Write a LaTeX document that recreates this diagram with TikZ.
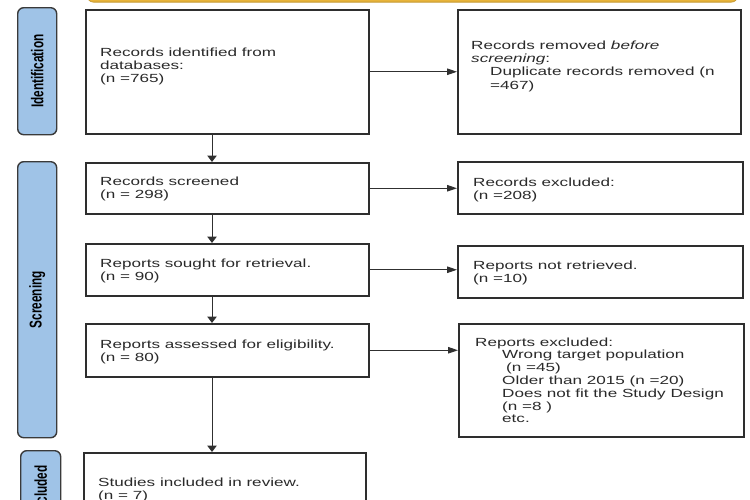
\documentclass[tikz,border=0pt]{standalone}
\usepackage{fontspec}
\setmainfont{Liberation Sans}[FakeStretch=1.45]
\newfontfamily\labfont{Liberation Sans}
\usetikzlibrary{arrows.meta}
\definecolor{boxc}{HTML}{2E2E2E}
\definecolor{arrc}{HTML}{303030}
\definecolor{txtc}{HTML}{2A2A2A}
\definecolor{labc}{HTML}{3A3A3A}
\definecolor{labfill}{HTML}{9FC3E7}
\definecolor{barfill}{HTML}{E8B43A}
\begin{document}
\begin{tikzpicture}[x=1pt,y=-1pt,
  box/.style={draw=boxc, line width=1.5pt, fill=white, inner sep=0pt, anchor=north west},
  txt/.style={anchor=north west, inner sep=0pt, align=left, text=txtc,
              font=\fontsize{11.8}{13.4}\selectfont},
  lab/.style={draw=labc, line width=1.4pt, fill=labfill, rounded corners=6pt, inner sep=0pt, anchor=north west},
  labtxt/.style={rotate=90, inner sep=0pt, text=black, font=\labfont\bfseries\fontsize{11.8}{13}\selectfont},
  arr/.style={draw=arrc, line width=1pt},
  harr/.style={arr, -{Triangle[length=10pt,width=6.5pt]}},
  varr/.style={arr, -{Triangle[length=6.5pt,width=9.5pt]}}]
\useasboundingbox (0,0) rectangle (750,499);
\clip (0,0) rectangle (750,499);

% top bar
\node[draw=barfill!85!black, fill=barfill, line width=0.8pt, rounded corners=6pt, inner sep=0pt,
      minimum width=650pt, minimum height=24pt, anchor=south west] (topbar) at (87,2.5) {};

% phase labels
\node[lab, minimum width=39pt, minimum height=127pt] (l1) at (17,7) {};
\node[labtxt] (l1t) at (l1.center) {\scalebox{1}[1.45]{Identification}};
\node[lab, minimum width=39pt, minimum height=276pt] (l2) at (17,161) {};
\node[labtxt] (l2t) at (l2.center) {\scalebox{1}[1.45]{Screening}};
\node[lab, minimum width=40pt, minimum height=78pt] (l3) at (20,450) {};
\node[labtxt] (l3t) at (l3.center) {\scalebox{1}[1.45]{Included}};

% left column boxes
\node[box, minimum width=283pt, minimum height=124pt] (b1) at (85,9) {};
\node[box, minimum width=283pt, minimum height=51pt] (b2) at (85,162) {};
\node[box, minimum width=283pt, minimum height=52pt] (b3) at (85,243) {};
\node[box, minimum width=283pt, minimum height=53pt] (b4) at (85,323) {};
\node[box, minimum width=282pt, minimum height=78pt] (b5) at (83,452) {};

% right column boxes
\node[box, minimum width=283pt, minimum height=124pt] (r1) at (457,9) {};
\node[box, minimum width=285pt, minimum height=52pt] (r2) at (457,161) {};
\node[box, minimum width=285pt, minimum height=52pt] (r3) at (457,245) {};
\node[box, minimum width=285pt, minimum height=113pt] (r4) at (458,323) {};

% texts
\node[txt] (t1) at (100,47.4) {Records identified from\\databases:\\(n =765)};
\node[txt] (t2) at (100,176.4) {Records screened\\(n = 298)};
\node[txt] (t3) at (100,258.4) {Reports sought for retrieval.\\(n = 90)};
\node[txt] (t4) at (100,339.4) {Reports assessed for eligibility.\\(n = 80)};
\node[txt] (t5) at (98,477.4) {Studies included in review.\\(n = 7)};

\node[txt] (s1) at (471,40.4) {Records removed \textit{before}\\\textit{screening}:\\\hspace*{19pt}Duplicate records removed (n\\\hspace*{19pt}=467)};
\node[txt] (s2) at (473,177.4) {Records excluded:\\(n =208)};
\node[txt] (s3) at (473,260.4) {Reports not retrieved.\\(n =10)};
\node[txt, font=\fontsize{11.8}{12.8}\selectfont] (s4) at (475,337.4) {Reports excluded:\\\hspace*{27pt}Wrong target population\\\hspace*{31pt}(n =45)\\\hspace*{27pt}Older than 2015 (n =20)\\\hspace*{27pt}Does not fit the Study Design\\\hspace*{27pt}(n =8 )\\\hspace*{27pt}etc.};

% connectors
\coordinate (ax) at (212,0);
\draw[varr] (b1.south -| ax) -- (b2.north -| ax);
\draw[varr] (b2.south -| ax) -- (b3.north -| ax);
\draw[varr] (b3.south -| ax) -- (b4.north -| ax);
\draw[varr] (b4.south -| ax) -- (b5.north -| ax);

\draw[harr] (b1.east) -- (b1.east -| r1.west);
\draw[harr] (b2.east) -- (b2.east -| r2.west);
\draw[harr] (b3.east) -- (b3.east -| r3.west);
\draw[harr] (b4.east) -- (b4.east -| r4.west);
\end{tikzpicture}
\end{document}
